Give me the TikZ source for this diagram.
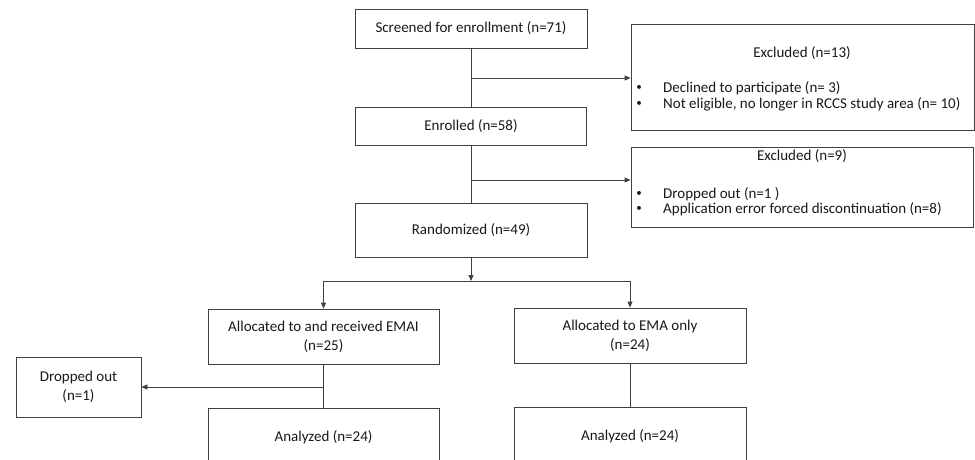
\documentclass[tikz,border=0pt]{standalone}
\usepackage{fontspec}
\setmainfont{Carlito}
\usetikzlibrary{arrows.meta}
\begin{document}
\begin{tikzpicture}[x=1pt,y=-1pt,
  box/.style={draw=black!75, line width=0.8pt, rectangle, inner sep=0pt, align=center,
    font=\fontsize{15}{19}\selectfont, text=black!90},
  txt/.style={inner sep=0pt, font=\fontsize{15}{18}\selectfont, text=black!90},
  dot/.style={inner sep=0pt, font=\fontsize{11}{12}\selectfont, text=black!90},
  conn/.style={draw=black!75, line width=0.8pt},
  arr/.style={conn, -{Triangle[length=6pt,width=5pt]}}]
\clip (0,0) rectangle (975,459);
\fill[white] (0,0) rectangle (975,459);
% boxes
\node[box, minimum width=232pt, minimum height=39pt] (screen) at (471,28.5) {Screened for enrollment (n=71)};
\node[box, minimum width=343pt, minimum height=106pt] (ex1) at (802.5,77) {};
\node[box, minimum width=231pt, minimum height=38pt] (enr) at (471,126) {Enrolled (n=58)};
\node[box, minimum width=342pt, minimum height=80pt] (ex2) at (802,187) {};
\node[box, minimum width=232pt, minimum height=54pt] (rand) at (471,230) {Randomized (n=49)};
\node[box, minimum width=231pt, minimum height=55pt] (al1) at (323.5,336.5) {Allocated to and received EMAI\\(n=25)};
\node[box, minimum width=232pt, minimum height=55pt] (al2) at (630,335.5) {Allocated to EMA only\\(n=24)};
\node[box, minimum width=125pt, minimum height=60pt] (drop) at (78.5,387) {Dropped out\\(n=1)};
\node[box, minimum width=231pt, minimum height=58pt] (an1) at (323.5,437) {Analyzed (n=24)};
\node[box, minimum width=232pt, minimum height=58pt] (an2) at (630,436) {Analyzed (n=24)};
% excluded texts
\node[txt] (t1) at (802,53) {Excluded (n=13)};
\node[dot] (b11) at (639,88) {•};
\node[txt, anchor=west] (l11) at (663,88) {Declined to participate (n= 3)};
\node[dot] (b12) at (639,104) {•};
\node[txt, anchor=west] (l12) at (663,104) {Not eligible, no longer in RCCS study area (n= 10)};
\node[txt] (t2) at (802,156) {Excluded (n=9)};
\node[dot] (b21) at (639,194) {•};
\node[txt, anchor=west] (l21) at (663,194) {Dropped out (n=1 )};
\node[dot] (b22) at (639,209) {•};
\node[txt, anchor=west] (l22) at (663,209) {Application error forced discontinuation (n=8)};
% junctions
\coordinate (j1) at (471,78);
\coordinate (j2) at (471,180);
\coordinate (j3) at (471,281);
\coordinate (jl) at (323.5,281);
\coordinate (jr) at (630,281);
\coordinate (j4) at (323.5,387);
% connectors
\draw[conn] (screen.south) -- (enr.north);
\draw[arr] (j1) -- (ex1.west |- j1);
\draw[conn] (enr.south) -- (rand.north);
\draw[arr] (j2) -- (ex2.west |- j2);
\draw[arr] (rand.south) -- (j3);
\draw[arr] (j3) -- (jl) -- (al1.north);
\draw[arr] (j3) -- (jr) -- (al2.north);
\draw[conn] (al1.south) -- (an1.north);
\draw[arr] (j4) -- (drop.east);
\draw[conn] (al2.south) -- (an2.north);
\end{tikzpicture}
\end{document}
